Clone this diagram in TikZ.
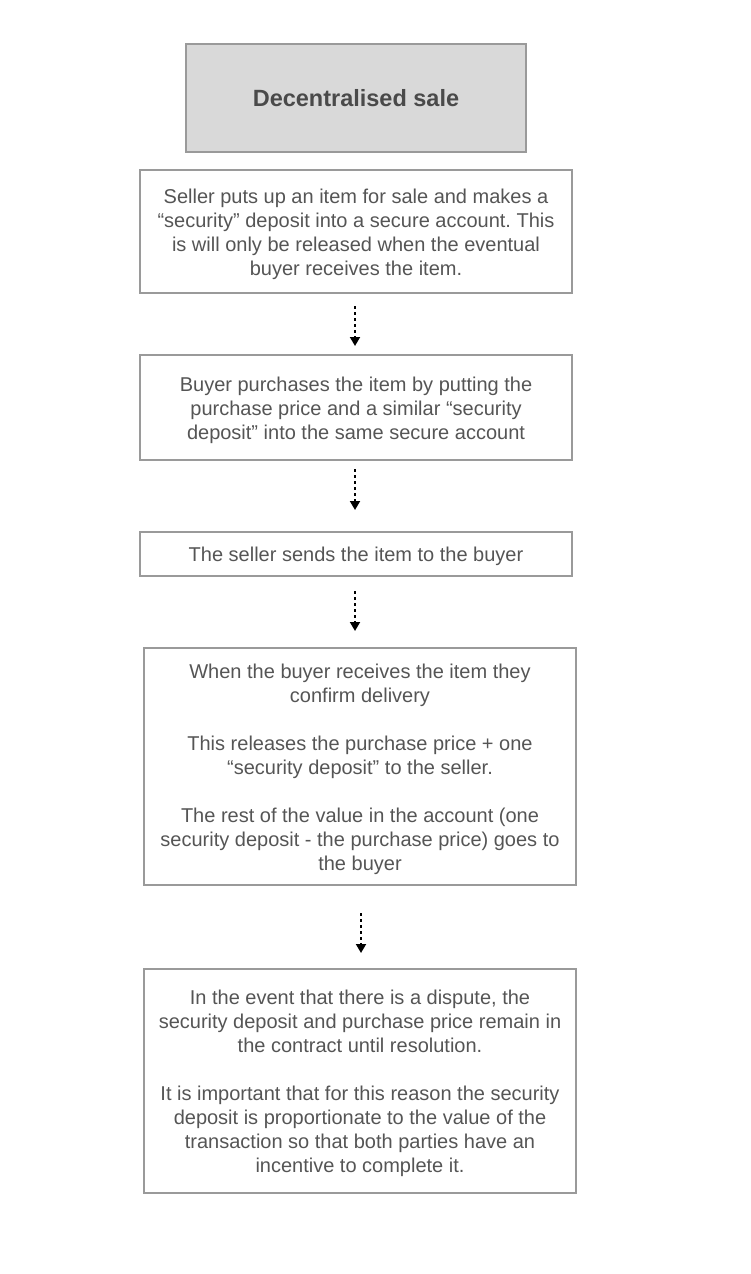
\documentclass[tikz,border=0pt]{standalone}
\usepackage{fontspec}
\setmainfont{Liberation Sans}
\usetikzlibrary{arrows.meta}
\definecolor{boxline}{HTML}{9A9A9A}
\definecolor{titlefill}{HTML}{D9D9D9}
\definecolor{bodytext}{HTML}{555555}
\definecolor{titletext}{HTML}{4A4A4A}
\tikzset{
  box/.style={draw=boxline, line width=2pt, rectangle, inner sep=0pt},
  boxtext/.style={inner sep=0pt, align=center, text=bodytext,
    font=\fontsize{20}{24}\selectfont\frenchspacing},
  titlebox/.style={box, fill=titlefill, text=titletext, font=\fontsize{23.5}{28}\selectfont\bfseries},
  flow/.style={draw=black, line width=1.8pt, dash pattern=on 3pt off 3pt,
    -{Triangle[width=10pt,length=9pt]}}
}
\begin{document}
\begin{tikzpicture}[x=1pt,y=-1pt]
\useasboundingbox (0,0) rectangle (750,1274);
\node[titlebox, minimum width=340pt, minimum height=108pt] (t) at (356,98) {Decentralised sale};
\node[box, minimum width=432pt, minimum height=123pt] (b1) at (356,231.5) {};
\node[boxtext] (b1t) at ([yshift=-3pt]b1.center)
  {Seller puts up an item for sale and makes a\\
   “security” deposit into a secure account. This\\
   is will only be released when the eventual\\
   buyer receives the item.};
\node[box, minimum width=432pt, minimum height=105pt] (b2) at (356,407.5) {};
\node[boxtext] (b2t) at ([yshift=-3pt]b2.center)
  {Buyer purchases the item by putting the\\
   purchase price and a similar “security\\
   deposit” into the same secure account};
\node[box, minimum width=432pt, minimum height=44pt] (b3) at (356,554) {};
\node[boxtext] (b3t) at ([yshift=-2.5pt]b3.center)
  {The seller sends the item to the buyer};
\node[box, minimum width=432pt, minimum height=237pt] (b4) at (360,766.5) {};
\node[boxtext] (b4t) at ([yshift=-2.5pt]b4.center)
  {When the buyer receives the item they\\
   confirm delivery\\[24pt]
   This releases the purchase price + one\\
   “security deposit” to the seller.\\[24pt]
   The rest of the value in the account (one\\
   security deposit - the purchase price) goes to\\
   the buyer};
\node[box, minimum width=432pt, minimum height=224pt] (b5) at (360,1081) {};
\node[boxtext] (b5t) at ([yshift=-2.5pt]b5.center)
  {In the event that there is a dispute, the\\
   security deposit and purchase price remain in\\
   the contract until resolution.\\[24pt]
   It is important that for this reason the security\\
   deposit is proportionate to the value of the\\
   transaction so that both parties have an\\
   incentive to complete it.};
\draw[flow, shorten <=12pt, shorten >=8pt] ([xshift=-1pt]b1.south) -- ([xshift=-1pt]b2.north);
\draw[flow, shorten <=8pt, shorten >=21pt] ([xshift=-1pt]b2.south) -- ([xshift=-1pt]b3.north);
\draw[flow, shorten <=14pt, shorten >=16pt] ([xshift=-1pt]b3.south) -- ([xshift=-5pt]b4.north);
\draw[flow, shorten <=27pt, shorten >=15pt] ([xshift=1pt]b4.south) -- ([xshift=1pt]b5.north);
\end{tikzpicture}
\end{document}
